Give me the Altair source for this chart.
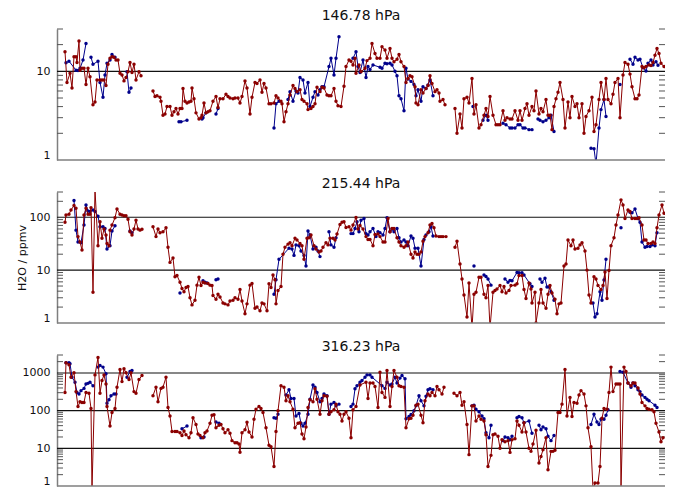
import altair as alt
import pandas as pd

TITLES = ["146.78 hPa", "215.44 hPa", "316.23 hPa"]
TITLE_OFFSETS = [6, 1, 1]
Y_MAX = [30, 300, 3000]
DECADE_LABELS = [[1, 10], [1, 10, 100], [1, 10, 100, 1000]]
GRID_LINES = [[10], [10, 100], [10, 100, 1000]]
MINOR = [2, 3, 4, 5, 6, 7, 8, 9]
RED = "#8b0000"
BLUE = "#00008b"
W, H = 608, 131
T_MAX = 608

# (sample index, H2O ppmv); None marks a data gap
P1_RED = [(8,16.6),(10,7.5),(13,9.5),(15,6.5),(17,14.6),(19,14.6),(20,12.6),(22,22),(23,10.3),(25,10.8),(27,10.8),(29,7.1),(31,10.8),(33,8.7),(36,4.2),(38,4.5),(40,8.0),(43,8.0),(45,8.0),(47,8.0),(49,6.9),(51,12.0),(53,14.0),(55,14.6),(57,14.4),(59,13.4),(61,13.4),(63,9.5),(65,9.1),(67,7.8),(69,8.5),(71,9.9),(73,12.6),(75,9.7),(77,12.0),(79,8.0),(82,9.9),(84,8.9), None,
 (96,6.0),(98,5.2),(100,5.3),(103,5.1),(104,4.6),(106,3.2),(108,3.3),(110,4.0),(113,4.0),(115,3.2),(117,3.5),(119,3.8),(121,3.3),(123,3.8),(125,3.8),(126,6.4),(128,4.6),(130,4.4),(132,4.5),(134,4.6),(135,6.5),(137,4.9),(139,3.4),(142,2.9),(144,3.0),(145,3.2),(147,4.4),(149,3.4),(151,3.5),(153,3.6),(156,4.6),(159,5.2),(161,3.9),(163,4.9),(166,4.9),(169,5.5),(171,5.2),(173,5.0),(176,4.9),(178,5.0),(181,5.0),(183,4.4),(185,5.2),(188,7.8),(190,6.5),(193,3.3),(195,5.1),(198,7.5),(200,7.3),(203,8.0),(205,5.8),(207,7.3),(209,6.5),(212,4.3),(214,4.3),(217,4.4),(219,5.3),(221,5.0),(224,4.6),(225,4.3),(227,2.7),(229,3.5),(231,4.3),(233,5.4),(236,6.9),(238,6.4),(240,5.9),(243,6.2),(245,4.8),(247,4.6),(250,4.3),(251,3.7),(254,3.8),(256,4.0),(258,4.3),(260,6.6),(263,5.9),(265,6.6),(267,6.5),(270,5.4),(272,5.3),(274,5.3),(277,6.4),(279,4.6),(281,4.1),(284,4.0),(287,6.8),(289,11.3),(292,13.4),(294,13.0),(296,11.8),(298,14.0),(299,9.5),(302,11.8),(304,9.9),(308,10.8),(310,13.2),(313,14.0),(315,20.6),(318,15.9),(320,14.0),(323,14.0),(325,18.9),(328,17.4),(330,14.0),(333,18.1),(335,14.0),(337,12.8),(340,13.7),(342,15.5),(344,12.8),(347,11.3),(349,7.5),(351,8.3),(353,8.9),(355,8.7),(358,6.7),(359,4.4),(361,4.2),(364,6.2),(366,5.7),(369,6.4),(371,6.9),(373,8.9),(375,7.3),(378,5.9),(380,6.2),(382,5.7),(383,4.6),(386,4.8),(388,4.2), None,
 (398,3.8),(400,2.0),(403,3.3),(405,2.3),(407,4.9),(410,5.1),(412,4.4),(415,8.3),(417,3.3),(419,4.2),(422,2.3),(424,2.5),(427,3.2),(429,3.8),(431,3.1),(433,5.2),(436,3.2),(439,2.5),(441,2.5),(443,2.5),(446,3.6),(448,2.8),(450,3.0),(453,2.9),(455,2.9),(458,3.6),(461,2.8),(463,3.6),(465,2.8),(468,3.8),(470,4.3),(472,3.2),(475,4.0),(477,3.6),(479,6.0),(482,3.3),(484,3.8),(486,3.5),(489,4.8),(491,3.2),(493,3.2),(495,2.2),(497,4.0),(499,4.9),(501,5.8),(503,7.5),(506,4.8),(508,2.3),(511,4.5),(513,3.0),(515,5.2),(518,4.0),(520,4.3),(522,3.0),(525,4.3),(527,2.0),(529,3.1),(532,3.6),(535,5.1),(537,2.1),(539,2.5),(542,4.8),(544,7.5),(547,4.8),(549,8.3),(551,4.8),(554,4.3),(556,5.5),(558,7.5),(561,8.3),(563,3.0),(566,9.1),(568,12.6),(571,12.0),(573,9.3),(575,6.7),(578,4.9),(580,4.9),(582,5.4),(585,11.3),(587,11.0),(589,11.3),(592,11.8),(594,11.6),(596,12.6),(598,15.2),(600,18.1),(602,15.9),(604,12.3),(607,11.3)]

P1_BLUE = [(9,12.5),(12,13.0),(19,10.3),(21,10.2),(23,10.8),(26,13.4),(29,20.6), None,
 (34,14.4),(36,12.0),(41,13.0),(43,7.5),(46,5.1),(48,9.1),(50,12.3),(53,13.4),(55,15.5),(58,14.4), None,
 (70,9.9),(72,5.8),(74,6.5), None,
 (122,2.7),(124,2.7),(130,2.8), None,
 (145,2.9),(146,3.0),(149,3.4), None,
 (159,3.3),(161,3.8), None,
 (217,2.3),(219,4.3),(222,4.6), None,
 (231,4.8),(233,5.9),(236,4.6),(239,6.0),(241,5.7),(243,8.5),(246,8.0),(248,5.7),(251,7.5),(253,4.0),(256,5.1),(258,5.9),(261,5.4),(263,6.2),(265,6.7),(267,6.7),(272,11.3),(274,14.0),(277,9.1),(279,14.0),(282,24.6), None,
 (296,14.0),(299,16.6),(301,11.3),(303,9.7),(306,13.4),(309,8.5),(311,11.3),(313,10.5),(316,11.8),(323,11.1),(325,10.8),(328,12.3),(330,12.2),(333,12.3),(335,11.8),(338,10.0),(340,8.9),(342,5.3),(344,4.9),(347,3.6),(349,10.8),(351,8.2),(354,7.7),(357,7.1),(359,5.3),(361,6.2),(364,4.6),(366,6.7),(369,6.4),(371,7.0),(373,8.0),(376,5.3), None,
 (416,4.0), None,
 (426,2.8),(429,3.2),(431,2.8), None,
 (446,2.6),(449,2.5),(453,2.3),(455,2.3),(458,2.3),(461,2.5),(463,2.5),(466,2.3),(468,2.3),(472,2.2),(475,2.2), None,
 (481,2.9),(483,2.8),(486,2.7),(489,2.8),(492,3.0),(494,3.2),(497,2.1), None,
 (534,1.36),(537,1.34),(539,0.9),(542,2.3),(544,3.7),(547,4.8),(549,3.1), None,
 (563,7.1), None,
 (573,13.7),(576,12.0),(578,14.4),(581,13.4),(583,13.7),(586,11.0),(589,10.1),(591,12.3),(594,13.4),(596,11.8),(599,12.8),(601,11.7)]

P2_RED = [(8,80),(9,110),(12,114),(14,137),(17,166),(19,148),(21,43),(23,34),(25,24),(27,110),(29,148),(31,114),(33,114),(34,152),(36,3.8),(38,330),(41,29),(43,82),(45,40),(47,60),(49,46),(50,32),(52,29),(53,57),(55,71),(58,98),(60,143),(63,114),(65,110),(67,107),(69,107),(71,92),(73,53),(75,46),(77,60),(79,88),(81,60),(83,57),(85,59), None,
 (96,66),(99,43),(101,60),(103,51),(106,53),(109,63),(111,27),(113,14),(116,17),(118,7.5),(120,7.9),(123,5.9),(125,4.5),(127,3.9),(129,4.7),(131,4.9),(133,3.0),(135,2.2),(138,2.7),(140,5.2),(142,7.3),(144,5.1),(146,5.9),(148,5.7),(151,5.6),(153,5.2),(155,5.1),(156,3.3),(159,2.8),(161,3.5),(163,3.1),(166,2.4),(168,2.3),(171,2.2),(173,2.6),(176,2.7),(178,3.0),(181,2.8),(183,4.3),(185,2.6),(188,1.5),(190,2.3),(193,5.2),(195,5.6),(198,1.9),(200,2.0),(203,1.7),(205,2.4),(207,2.3),(210,1.7),(212,5.5),(214,4.7),(216,8.1),(218,6.6),(219,2.3),(221,4.1),(224,4.9),(226,20),(228,27),(231,31),(233,33),(235,29),(238,40),(240,37),(243,32),(245,29),(247,16),(250,40),(252,41),(254,46),(257,29),(259,25),(262,22),(264,23),(266,27),(269,33),(271,30),(273,40),(276,40),(278,37),(280,48),(283,73),(285,80),(287,82),(289,64),(292,66),(294,57),(296,71),(299,99),(301,60),(303,70),(306,60),(309,43),(311,38),(313,38),(316,29),(318,47),(321,48),(323,43),(326,34),(328,34),(331,95),(333,53),(335,61),(337,61),(340,41),(342,34),(344,29),(347,27),(349,29),(351,34),(354,20),(356,17),(358,22),(360,20),(362,20),(364,22),(366,35),(368,43),(371,51),(373,71),(375,76),(377,63),(379,44),(382,43),(384,43),(386,43),(389,43), None,
 (398,27),(400,35),(403,13),(405,6.8),(407,3.4),(410,1.3),(412,5.7),(415,0.8),(417,3.5),(419,3.8),(422,7.3),(424,7.3),(427,3.5),(429,3.0),(431,5.1),(433,0.8),(436,3.8),(438,4.1),(440,4.4),(443,5.1),(445,3.9),(447,4.9),(449,3.7),(452,4.1),(454,5.1),(458,5.2),(460,5.5),(462,7.9),(465,7.9),(467,4.3),(469,2.9),(472,5.7),(474,4.4),(475,2.4),(478,3.8),(479,1.0),(482,2.4),(484,4.3),(486,2.4),(489,1.9),(491,3.5),(493,5.1),(495,3.7),(498,2.8),(500,1.5),(502,2.3),(504,2.4),(507,12),(509,13),(511,37),(514,29),(516,37),(518,25),(521,26),(523,30),(525,33),(528,23),(530,10),(532,3.4),(534,2.4),(537,7.5),(539,6.8),(541,5.1),(544,4.3),(546,5.1),(548,9.2),(550,2.9),(552,9.8),(554,29),(557,41),(559,71),(561,110),(564,213),(566,171),(568,95),(571,137),(573,128),(575,95),(578,95),(580,95),(582,98),(585,71),(587,37),(589,37),(591,32),(594,32),(596,34),(598,32),(600,63),(602,110),(605,171),(607,119)]

P2_BLUE = [(17,207),(19,57),(21,34),(24,33),(27,71),(29,171),(31,131),(33,128),(36,137),(38,128),(41,105),(43,66),(46,66),(48,61),(50,25),(53,29),(55,55),(58,69), None,
 (73,55),(75,51), None,
 (123,3.7), None,
 (146,6.3),(148,5.9),(150,5.7), None,
 (159,6.6),(161,6.8), None,
 (217,3.5),(219,6.6),(222,16),(232,26),(235,25),(237,19),(239,30),(242,29),(244,23),(247,19),(249,12),(251,55),(253,46),(256,25),(259,27),(261,23),(263,18), None,
 (272,53),(274,30),(277,27),(279,41), None,
 (294,49),(296,49),(298,61),(300,82),(302,53),(304,88),(307,95),(309,49),(311,46),(313,53),(316,61),(319,43),(321,53),(323,51),(326,46),(328,61),(330,98),(333,53),(335,60),(337,53),(340,61),(342,41),(344,34),(347,37),(349,34),(351,29),(354,44),(356,40),(358,26),(361,26),(364,12),(367,38),(369,46),(372,53),(374,66),(376,44), None,
 (417,12), None,
 (427,8.1),(429,7.6),(431,6.8),(434,5.2), None,
 (448,6.8),(451,5.9),(453,6.4),(455,6.3),(460,9.0),(462,8.9),(465,8.9),(467,8.1),(473,5.5),(475,4.9), None,
 (483,6.8),(485,5.9),(488,7.0),(490,4.8),(492,4.8),(494,3.9),(497,2.7), None,
 (536,2.4),(538,1.3),(540,1.5),(543,3.9),(545,2.7),(547,6.5),(549,16), None,
 (564,63), None,
 (573,124),(575,122),(578,143),(581,95),(583,80),(585,34),(588,27),(590,28),(593,28),(595,30),(598,29),(600,51)]

P3_RED = [(8,305),(9,1870),(12,1650),(14,770),(17,1010),(19,320),(21,129),(23,172),(25,165),(27,165),(29,305),(32,290),(34,114),(35,0.8),(38,890),(41,2590),(43,290),(45,630),(47,890),(49,510),(50,129),(53,39),(55,89),(58,114),(60,420),(63,1240),(65,590),(67,1290),(69,1010),(72,670),(74,1010),(77,320),(79,290),(82,670),(85,860), None,
 (96,250),(99,420),(101,172),(104,390),(106,420),(109,770),(111,121),(113,72),(115,28),(118,28),(120,28),(123,26),(125,22),(127,29),(129,23),(132,19),(134,26),(136,65),(139,43),(141,24),(143,22),(146,19),(148,26),(150,29),(153,46),(155,75),(157,78),(159,35),(162,41),(164,43),(166,33),(168,26),(171,31),(173,25),(175,16),(178,14),(180,14),(182,13),(183,7.9),(185,26),(188,31),(190,49),(192,27),(195,20),(197,59),(199,109),(202,129),(204,114),(206,89),(209,35),(212,12),(214,11),(217,3.3),(219,28),(221,99),(224,460),(227,420),(229,183),(231,250),(233,172),(236,109),(238,35),(241,46),(243,48),(245,24),(247,18),(249,37),(251,121),(253,195),(256,172),(258,380),(260,200),(263,80),(265,183),(267,250),(270,240),(272,80),(274,93),(277,105),(279,149),(281,93),(283,80),(285,53),(287,80),(289,93),(292,63),(294,19),(296,105),(299,129),(303,480),(309,570),(311,210),(313,540),(316,540),(318,440),(321,121),(323,1050),(325,305),(328,225),(330,1160),(333,129),(335,440),(337,1160),(340,770),(342,460),(344,440),(347,420),(349,35),(352,61),(354,63),(356,75),(359,140),(361,149),(364,75),(366,48),(368,183),(371,275),(373,250),(375,305),(378,250),(380,440),(382,360),(385,275),(387,420), None,
 (397,290),(400,250),(403,305),(405,140),(407,172),(410,43),(412,6.8),(415,134),(417,134),(419,53),(422,72),(424,59),(427,53),(429,23),(431,3.3),(434,6.5),(436,23),(438,24),(441,21),(443,10),(445,17),(448,15),(451,16),(453,7.8),(455,17),(458,18),(460,53),(462,41),(465,27),(467,48),(469,27),(472,10),(474,8.3),(476,13),(479,30),(482,4.1),(484,6.1),(486,9.2),(489,19),(491,2.7),(494,8.3),(496,8.3),(498,8.9),(501,89),(503,89),(505,149),(508,1240),(510,72),(513,225),(515,70),(517,165),(520,158),(522,260),(524,340),(527,275),(529,134),(531,35),(534,11),(536,0.8),(538,1.2),(541,1.2),(543,3.3),(545,63),(547,114),(550,109),(552,305),(554,1430),(556,320),(559,510),(561,510),(563,510),(564,0.8),(567,1430),(569,1090),(571,540),(574,460),(576,540),(578,540),(581,400),(583,275),(585,165),(588,134),(590,114),(592,109),(595,105),(597,93),(599,46),(602,27),(604,15),(606,19)]

P3_BLUE = [(9,1870),(12,1870),(13,1760),(15,770),(18,570),(20,305),(22,275),(24,340),(27,390),(29,510),(31,530),(33,570),(36,460), None,
 (41,1430),(43,1590),(46,1430),(49,950),(50,158),(52,195),(54,250),(57,275),(59,275), None,
 (70,770),(73,1090),(75,1160), None,
 (125,33),(130,39), None,
 (144,19),(147,20), None,
 (159,50),(162,46), None,
 (217,65),(219,63),(221,80), None,
 (229,260),(232,360),(234,210),(237,210),(239,72),(242,84),(244,46),(246,39),(248,46),(251,80),(253,200),(256,480),(258,420),(260,305),(263,172),(265,210),(267,275),(270,250),(272,80),(274,149),(277,165),(279,134),(282,149), None,
 (294,129),(296,149),(298,380),(300,460),(303,570),(305,630),(308,770),(310,890),(313,890),(315,770),(325,460),(328,390),(330,570),(333,480),(335,510),(338,770),(340,540),(343,730),(345,860),(348,700),(349,61),(352,70),(354,79),(357,99),(359,134),(362,250),(364,183),(367,134),(369,240),(371,360),(373,380),(376,360), None,
 (415,134),(417,140),(419,109),(422,93),(425,72),(427,61),(429,26),(432,19),(434,41), None,
 (446,16),(448,20),(451,19),(453,17),(455,21), None,
 (460,65),(462,70),(465,65),(467,48),(472,53),(475,25), None,
 (482,41),(484,31),(486,37),(489,33),(491,21),(494,16),(497,22), None,
 (534,43),(537,80),(540,50),(542,43),(544,59),(547,59),(549,75),(551,105), None,
 (563,1090),(566,1050),(571,540),(574,420),(576,540),(578,460),(581,360),(583,320),(585,260),(588,225),(590,200),(592,183),(598,140),(600,121)]

PANELS = [(P1_RED, P1_BLUE), (P2_RED, P2_BLUE), (P3_RED, P3_BLUE)]
FONT = "DejaVu Sans"


def to_df(pairs):
    rows, seg = [], 0
    for p in pairs:
        if p is None:
            seg += 1
            continue
        rows.append({"t": p[0], "v": p[1], "seg": seg})
    return pd.DataFrame(rows)


def panel(i):
    red, blue = PANELS[i]
    ymax = Y_MAX[i]
    xs = alt.Scale(domain=[0, T_MAX], nice=False, zero=False)
    ys = alt.Scale(type="log", domain=[1, ymax], nice=False)
    yaxis = alt.Axis(values=DECADE_LABELS[i], format="d", ticks=False, grid=False,
                     domainColor="#7f7f7f", domainWidth=1.5, labelFontSize=11,
                     labelColor="#111", labelFont=FONT, labelPadding=7,
                     labelFlush=True,
                     title="H2O / ppmv" if i == 1 else "", titleFont=FONT,
                     titleFontSize=11, titleFontWeight="normal", titleColor="#111",
                     titlePadding=2)
    X = alt.X("t:Q", scale=xs, axis=None)
    Y = alt.Y("v:Q", scale=ys, axis=yaxis)

    minor_vals = [m * d for d in DECADE_LABELS[i] for m in MINOR if m * d <= ymax]
    minor_df = pd.DataFrame({"v": minor_vals})
    grid_df = pd.DataFrame({"v": GRID_LINES[i]})
    base_df = pd.DataFrame({"v": [1]})

    grid = alt.Chart(grid_df).mark_rule(color="#111", strokeWidth=1.2).encode(
        y=Y, x=alt.value(0), x2=alt.value(W))
    tick_l = alt.Chart(minor_df).mark_rule(color="#555", strokeWidth=1).encode(
        y=alt.Y("v:Q", scale=ys), x=alt.value(0), x2=alt.value(6))
    tick_r = alt.Chart(minor_df).mark_rule(color="#555", strokeWidth=1).encode(
        y=alt.Y("v:Q", scale=ys), x=alt.value(W - 6), x2=alt.value(W))
    bottom = alt.Chart(base_df).mark_rule(color="#7f7f7f", strokeWidth=1.5).encode(
        y=alt.Y("v:Q", scale=ys), x=alt.value(0), x2=alt.value(W))

    layers = [grid, tick_l, tick_r]
    for df, col in ((to_df(blue), BLUE), (to_df(red), RED)):
        src = alt.Chart(df)
        layers.append(src.mark_line(color=col, strokeWidth=1, clip=True).encode(
            x=X, y=alt.Y("v:Q", scale=ys), detail="seg:N"))
        layers.append(src.mark_circle(color=col, size=12, opacity=1, clip=True).encode(
            x=X, y=alt.Y("v:Q", scale=ys)))
    layers.append(bottom)
    return alt.layer(*layers).properties(
        width=W, height=H,
        title=alt.TitleParams(TITLES[i], font=FONT, fontSize=14, fontWeight="normal",
                              color="#111", offset=TITLE_OFFSETS[i]))


chart = alt.vconcat(panel(0), panel(1), panel(2), spacing=15).configure_view(
    stroke=None).properties(padding={"left": 8, "top": 0, "right": 5, "bottom": 0})

chart.save("out.html", embed_options={"renderer": "svg", "actions": False})
